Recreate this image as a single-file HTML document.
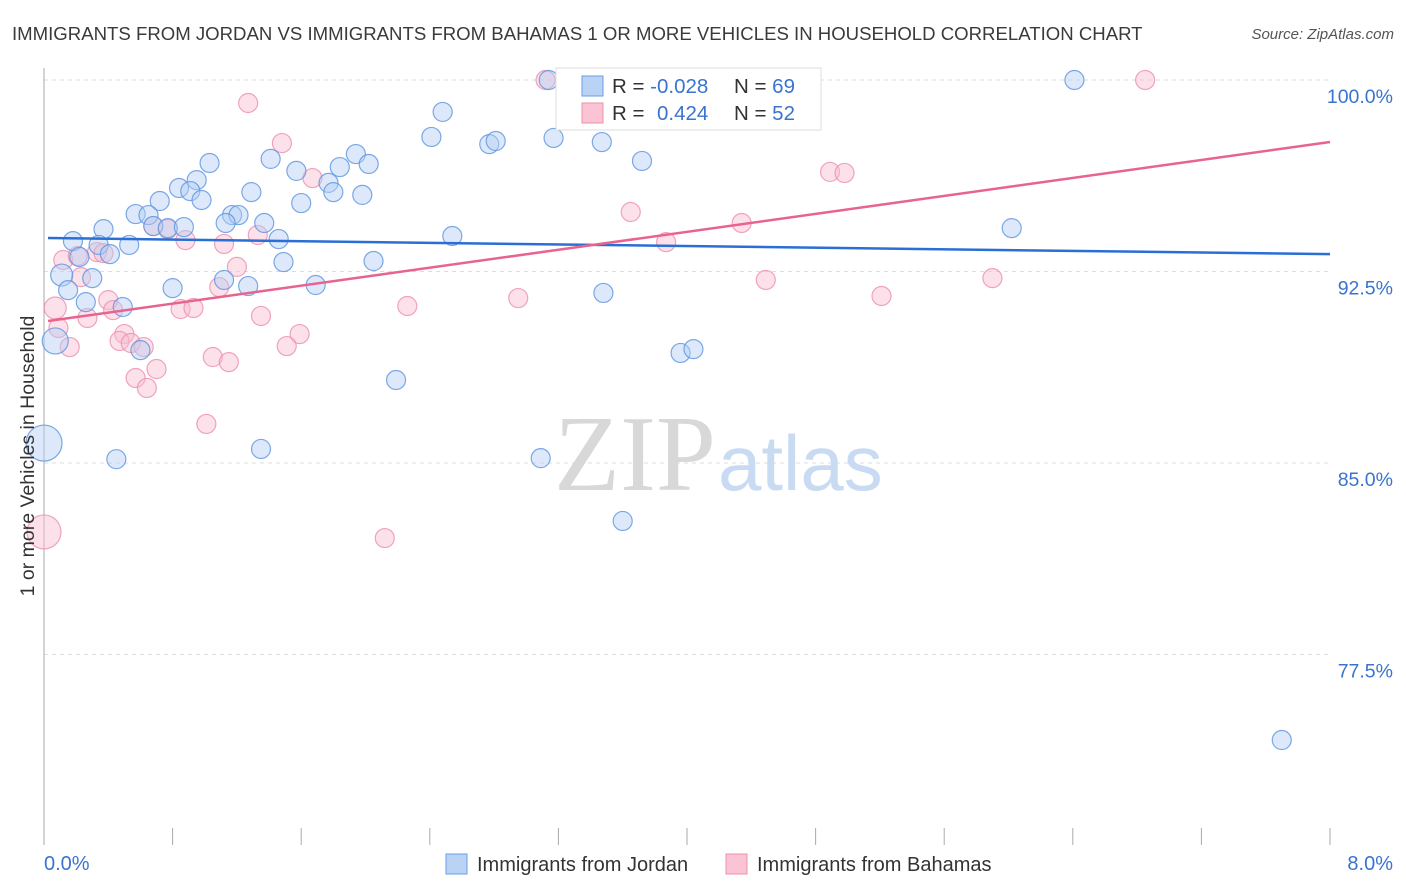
<!DOCTYPE html>
<html><head><meta charset="utf-8"><style>
body{margin:0;background:#fff;font-family:"Liberation Sans",sans-serif;}
svg{display:block}
</style></head><body>
<svg width="1406" height="892">
<text x="12" y="40" font-size="18.6" fill="#3a3a3a">IMMIGRANTS FROM JORDAN VS IMMIGRANTS FROM BAHAMAS 1 OR MORE VEHICLES IN HOUSEHOLD CORRELATION CHART</text>
<text x="1394" y="39" font-size="15" fill="#555" font-style="italic" text-anchor="end">Source: ZipAtlas.com</text>
<g id="grid"></g>
<g id="axes"></g>
<text x="716" y="490" font-size="108" fill="#d8d8d8" text-anchor="end" font-family="Liberation Serif,serif">ZIP</text>
<text x="718" y="490" font-size="78" fill="#c9dbf2">atlas</text>
<g id="pts"></g>
<g id="lines"></g>
<text transform="translate(34,456) rotate(-90)" font-size="19.5" fill="#333" text-anchor="middle">1 or more Vehicles in Household</text>
<text x="44" y="870" font-size="20" fill="#3a73d0">0.0%</text>
<text x="1393" y="870" font-size="20" fill="#3a73d0" text-anchor="end">8.0%</text>
<g>
<rect x="556" y="68" width="265" height="62" fill="#fff" stroke="#ddd"/>
<rect x="582" y="76" width="21" height="20" fill="#b9d3f5" stroke="#6a9ee6"/>
<rect x="582" y="103" width="21" height="20" fill="#fbc4d4" stroke="#ec8fae"/>
<text x="612" y="93" font-size="20.5" fill="#333">R = <tspan fill="#3a73d0">-0.028</tspan></text>
<text x="734" y="93" font-size="20.5" fill="#333">N = <tspan fill="#3a73d0">69</tspan></text>
<text x="612" y="120" font-size="20.5" fill="#333">R = <tspan fill="#3a73d0" x="657">0.424</tspan></text>
<text x="734" y="120" font-size="20.5" fill="#333">N = <tspan fill="#3a73d0">52</tspan></text>
</g>
<g>
<rect x="446" y="854" width="21" height="20" fill="#b9d3f5" stroke="#6a9ee6"/>
<text x="477" y="871" font-size="20" fill="#333">Immigrants from Jordan</text></g>
<g>
<rect x="726" y="854" width="21" height="20" fill="#fbc4d4" stroke="#ec8fae"/>
<text x="757" y="871" font-size="20" fill="#333">Immigrants from Bahamas</text></g>
</svg>
<script>
const yTicks=[100,92.5,85,77.5];
const yTickLabels=["100.0%","92.5%","85.0%","77.5%"];
const xTicks=[0,0.8,1.6,2.4,3.2,4.0,4.8,5.6,6.4,7.2,8.0];
const jordanX=[3.14,3.27,4.33,6.41,2.48,2.41,2.77,2.81,3.17,3.47,3.72,1.03,1.41,1.57,1.94,1.84,2.02,1.77,1.80,1.98,0.95,0.84,0.91,0.98,0.72,1.29,0.57,0.65,1.17,1.21,1.60,1.13,1.37,0.68,0.77,0.87,0.37,1.46,2.54,6.02,0.18,0.34,0.53,0.41,0.22,1.49,2.05,0.11,0.30,0.15,1.12,1.27,1.69,0.80,0.26,0.49,3.48,0.07,0.60,3.96,4.04,2.19,0.0,0.45,1.35,3.09,3.60,7.70];
const jordanY=[100,100,100,100,98.75,97.77,97.49,97.61,97.73,97.57,96.83,96.75,96.91,96.44,97.10,96.59,96.71,95.97,95.61,95.50,96.08,95.77,95.65,95.30,95.26,95.61,94.75,94.71,94.71,94.71,95.18,94.40,94.40,94.28,94.20,94.24,94.16,93.77,93.89,94.20,93.69,93.54,93.54,93.18,93.07,92.87,92.91,92.36,92.24,91.77,92.17,91.93,91.97,91.85,91.30,91.11,91.66,89.78,89.42,89.31,89.46,88.25,85.78,85.15,85.55,85.19,82.73,74.15];
const bahamasX=[3.12,6.85,1.27,1.48,1.67,4.89,4.98,3.65,4.34,0.68,0.77,0.88,1.12,1.33,0.12,0.21,0.33,0.37,0.23,1.20,3.87,4.49,5.90,5.21,2.95,2.26,1.09,0.07,0.40,0.43,0.85,0.93,1.35,0.27,0.09,1.59,0.50,1.51,0.47,0.54,0.62,1.05,1.15,0.16,0.57,0.70,0.64,1.01,2.12,0.0];
const bahamasY=[100,100,99.10,97.53,96.16,96.40,96.36,94.83,94.40,94.28,94.16,93.73,93.58,93.93,92.95,93.11,93.26,93.22,92.28,92.68,93.65,92.17,92.24,91.54,91.46,91.15,91.89,91.07,91.38,90.99,91.03,91.07,90.76,90.68,90.29,90.05,90.05,89.58,89.78,89.70,89.54,89.15,88.95,89.54,88.33,88.68,87.94,86.53,82.06,82.30];
const jordanTrend=[93.81,93.18];
const bahamasTrend=[90.56,97.57];
const NS="http://www.w3.org/2000/svg";
const X=v=>44+v/8*1286;
const Y=v=>80+(100-v)*191.5/7.5;
function mk(t,a,p){const e=document.createElementNS(NS,t);for(const k in a)e.setAttribute(k,a[k]);p.appendChild(e);return e;}
const grid=document.getElementById('grid'),axes=document.getElementById('axes');
yTicks.forEach((t,i)=>{
 const l=mk('line',{x1:44,x2:1330,y1:Y(t),y2:Y(t),stroke:'#ddd','stroke-dasharray':'4,4'},grid);
 
 
 const tx=mk('text',{x:1393,y:Y(t)+23,'font-size':19.5,fill:'#3a73d0','text-anchor':'end'},axes);
 tx.textContent=yTickLabels[i];
 
 
});
const ya=mk('line',{x1:44,x2:44,y1:68,y2:845,stroke:'#aaa'},axes);


xTicks.forEach(t=>{
 const l=mk('line',{x1:X(t),x2:X(t),y1:828,y2:845,stroke:'#aaa'},axes);
 
 
});
const pts=document.getElementById('pts');
function drawPts(xs,ys,fill,stroke,name,big){
 xs.forEach((x,i)=>{
  let r=9.5; if(big[i])r=big[i];
  const c=mk('circle',{cx:X(x),cy:Y(ys[i]),r:r,fill:fill,'fill-opacity':0.45,stroke:stroke,'stroke-opacity':0.8,'stroke-width':1.2},pts);
  
  
 });
}
const jb={};jb[57]=13;jb[47]=11;jb[62]=18;
const bb={};bb[49]=17;bb[27]=11;
drawPts(bahamasX,bahamasY,'#f9bcd0','#ec8fae','bahamas-point',bb);
drawPts(jordanX,jordanY,'#b4cff3','#5b93e0','jordan-point',jb);
const ln=document.getElementById('lines');
const l1=mk('line',{x1:X(0.025),x2:X(8),y1:Y(jordanTrend[0]),y2:Y(jordanTrend[1]),stroke:'#2a6fd6','stroke-width':2.5},ln);


const l2=mk('line',{x1:X(0.025),x2:X(8),y1:Y(bahamasTrend[0]),y2:Y(bahamasTrend[1]),stroke:'#e8638f','stroke-width':2.5},ln);


</script>
</body></html>
